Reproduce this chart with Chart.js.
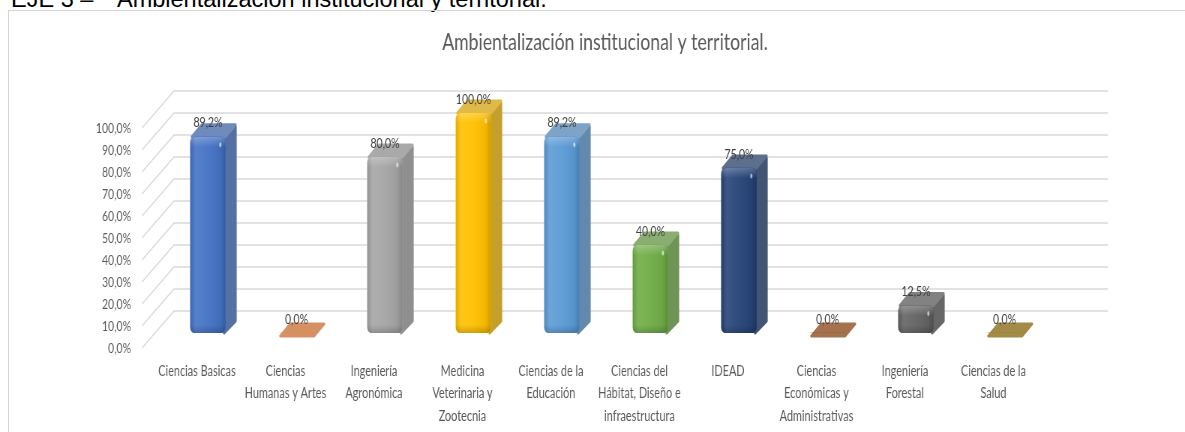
<!DOCTYPE html>
<html>
<head>
<meta charset="utf-8">
<script src="https://cdn.jsdelivr.net/npm/chart.js"></script>
<style>
  html, body { margin: 0; padding: 0; background: #fff; overflow: hidden; width: 1185px; height: 432px; }
  .hdr { position: absolute; top: -12px; font-family: "Liberation Sans", Arial, sans-serif; font-size: 23.5px; line-height: 23px; color: #000; white-space: pre; }
  #box { position: absolute; left: 8px; top: 10px; width: 1250px; height: 500px; border: 1px solid #d4d4d4; box-sizing: border-box; }
  #wrap { position: absolute; left: 0; top: 0; width: 1580px; height: 432px; transform: scaleX(0.75); transform-origin: 0 0; }
  #c { width: 1580px; height: 432px; display: block; }
</style>
</head>
<body>
<div class="hdr" style="left:11px">EJE 3 –</div>
<div class="hdr" style="left:117px">Ambientalización institucional y territorial.</div>
<div id="box"></div>
<div id="wrap"><canvas id="c" width="1580" height="432"></canvas></div>
<script>
// ---- data ----
const chartTitle = 'Ambientalización institucional y territorial.';
const categories = [
  'Ciencias Basicas',
  ['Ciencias', 'Humanas y Artes'],
  ['Ingeniería', 'Agronómica'],
  ['Medicina', 'Veterinaria y', 'Zootecnia'],
  ['Ciencias de la', 'Educación'],
  ['Ciencias del', 'Hábitat, Diseño e', 'infraestructura'],
  'IDEAD',
  ['Ciencias', 'Económicas y', 'Administrativas'],
  ['Ingeniería', 'Forestal'],
  ['Ciencias de la', 'Salud']
];
const values = [89.2, 0, 80, 100, 89.2, 40, 75, 0, 12.5, 0];
const yTicks = [0, 10, 20, 30, 40, 50, 60, 70, 80, 90, 100];
const barColors = ['#4472C4', '#ED7D31', '#A5A5A5', '#FFC000', '#5B9BD5', '#70AD47', '#264478', '#9E480E', '#636363', '#997300'];

// ---- helpers ----
function hex(c) { return [parseInt(c.slice(1,3),16), parseInt(c.slice(3,5),16), parseInt(c.slice(5,7),16)]; }
function mix(c, g, t) { const a = hex(c); return 'rgb(' + a.map(v => Math.round(v*(1-t) + g*t)).join(',') + ')'; }
const fmt = v => v.toFixed(1).replace('.', ',') + '%';

// 3D geometry (canvas units)
const DEPTH = { dx: 13.3, dy: -12 };
const WALL = { frontX: -29, frontDy: 15, backX: 13.7, backDy: -22, rightX: 79 };

const perspective3D = {
  id: 'perspective3D',
  beforeDatasetsDraw(chart) {
    const ctx = chart.ctx, ys = chart.scales.y, a = chart.chartArea;
    ctx.save();
    ctx.strokeStyle = '#D9D9D9';
    ctx.lineWidth = 1.5;
    ys.ticks.forEach(t => {
      const py = ys.getPixelForValue(t.value);
      ctx.beginPath();
      ctx.moveTo(a.left + WALL.frontX, py + WALL.frontDy);
      ctx.lineTo(a.left + WALL.backX, py + WALL.backDy);
      ctx.lineTo(a.right + WALL.rightX, py + WALL.backDy);
      ctx.stroke();
    });
    const meta = chart.getDatasetMeta(0);
    meta.data.forEach((bar, i) => {
      const p = bar.getProps(['x', 'y', 'base', 'width'], true);
      const l = p.x - p.width / 2, r = p.x + p.width / 2;
      const zero = values[i] === 0;
      const top = zero ? p.base + 3 : p.y;
      const side = mix(barColors[i], 110, 0.4);
      const topc = mix(barColors[i], 176, 0.4);
      ctx.lineJoin = 'round';
      ctx.lineWidth = 3;
      if (!zero) {
        ctx.fillStyle = side; ctx.strokeStyle = side;
        ctx.beginPath();
        ctx.moveTo(r - 2, top + 2);
        ctx.lineTo(r + DEPTH.dx, top + DEPTH.dy + 2);
        ctx.lineTo(r + DEPTH.dx, p.base + DEPTH.dy);
        ctx.lineTo(r - 2, p.base);
        ctx.closePath(); ctx.fill(); ctx.stroke();
      }
      ctx.fillStyle = topc; ctx.strokeStyle = topc;
      ctx.beginPath();
      ctx.moveTo(l + 2, top);
      ctx.lineTo(l + DEPTH.dx + 2, top + DEPTH.dy);
      ctx.lineTo(r + DEPTH.dx, top + DEPTH.dy);
      ctx.lineTo(r, top);
      ctx.closePath(); ctx.fill(); ctx.stroke();
    });
    ctx.restore();
  },
  afterDatasetsDraw(chart) {
    const ctx = chart.ctx;
    const meta = chart.getDatasetMeta(0);
    ctx.save();
    meta.data.forEach((bar, i) => {
      const p = bar.getProps(['x', 'y', 'base', 'width'], true);
      const l = p.x - p.width / 2, r = p.x + p.width / 2;
      if (values[i] !== 0) {
        ctx.save();
        ctx.beginPath();
        ctx.roundRect(l, p.y, p.width, p.base - p.y, 6);
        ctx.clip();
        const g = ctx.createLinearGradient(l, 0, r, 0);
        g.addColorStop(0, 'rgba(0,0,0,0.10)');
        g.addColorStop(0.15, 'rgba(255,255,255,0.10)');
        g.addColorStop(0.5, 'rgba(255,255,255,0.04)');
        g.addColorStop(0.85, 'rgba(0,0,0,0.05)');
        g.addColorStop(1, 'rgba(0,0,0,0.20)');
        ctx.fillStyle = g;
        ctx.fillRect(l, p.y, p.width, p.base - p.y);
        const gv = ctx.createLinearGradient(0, p.y, 0, p.y + 10);
        gv.addColorStop(0, 'rgba(255,255,255,0.25)');
        gv.addColorStop(1, 'rgba(255,255,255,0)');
        ctx.fillStyle = gv;
        ctx.fillRect(l, p.y, p.width, 10);
        const gb = ctx.createLinearGradient(0, p.base - 8, 0, p.base);
        gb.addColorStop(0, 'rgba(0,0,0,0)');
        gb.addColorStop(1, 'rgba(0,0,0,0.18)');
        ctx.fillStyle = gb;
        ctx.fillRect(l, p.base - 8, p.width, 8);
        ctx.restore();
        ctx.fillStyle = 'rgba(255,255,255,0.6)';
        ctx.beginPath();
        ctx.ellipse(r - 7, p.y + 8, 1.5, 2.5, 0, 0, Math.PI * 2);
        ctx.fill();
      }
      ctx.fillStyle = '#404040';
      ctx.font = '14px Lato';
      ctx.textAlign = 'center';
      ctx.textBaseline = 'middle';
      const ty = (values[i] === 0 ? p.base : p.y) - 14;
      ctx.fillText(fmt(values[i]), p.x, ty);
    });
    ctx.restore();
  }
};

new Chart(document.getElementById('c'), {
  type: 'bar',
  data: {
    labels: categories,
    datasets: [{
      data: values,
      backgroundColor: barColors,
      borderWidth: 0,
      borderRadius: 6,
      borderSkipped: false,
      barThickness: 47
    }]
  },
  plugins: [perspective3D],
  options: {
    responsive: false,
    devicePixelRatio: 1,
    animation: false,
    layout: { padding: { left: 33.4, right: 0, top: 0, bottom: 0 } },
    plugins: {
      legend: { display: false },
      tooltip: { enabled: false },
      title: {
        display: true,
        text: chartTitle,
        color: '#595959',
        font: { family: 'Lato', size: 23.5, weight: 'normal', lineHeight: 1.2 },
        padding: { top: 28.5, bottom: 56.3 }
      }
    },
    scales: {
      x: {
        grid: { display: false, drawTicks: false },
        border: { display: false },
        ticks: {
          color: '#595959',
          font: { family: 'Lato', size: 14.5, lineHeight: 1.55 },
          padding: 27,
          labelOffset: -14.7,
          maxRotation: 0,
          autoSkip: false
        },
        afterFit(s) { s.height = 99; }
      },
      y: {
        min: 0,
        max: 100,
        afterBuildTicks(s) { s.ticks = yTicks.map(v => ({ value: v })); },
        grid: { display: false, drawTicks: false },
        border: { display: false },
        ticks: {
          color: '#595959',
          font: { family: 'Lato', size: 14 },
          padding: 43.6,
          labelOffset: 15,
          callback: v => fmt(v)
        },
        afterFit(s) { s.width = 184.9; }
      },
      y2: {
        type: 'linear',
        position: 'right',
        display: true,
        grid: { display: false, drawTicks: false },
        border: { display: false },
        ticks: { display: false },
        afterFit(s) { s.width = 181.7; }
      }
    }
  }
});
</script>
</body>
</html>
